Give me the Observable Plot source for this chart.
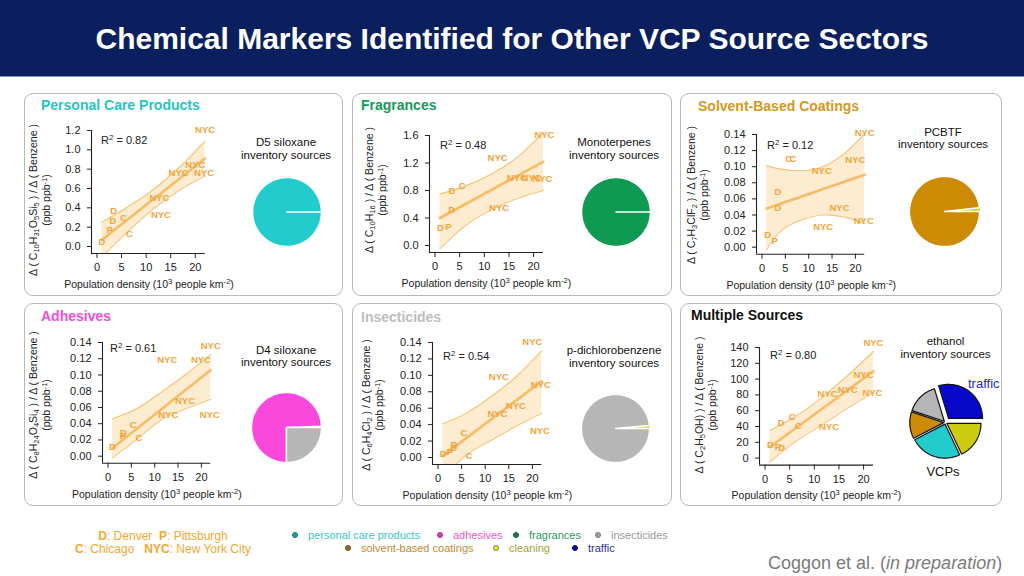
<!DOCTYPE html>
<html><head><meta charset="utf-8">
<script src="https://cdn.jsdelivr.net/npm/d3@7"></script>
<script src="https://cdn.jsdelivr.net/npm/@observablehq/plot@0.6"></script>
<style>
body{margin:0;background:#fff;font-family:"Liberation Sans",Arial,Helvetica,sans-serif;}
#root{position:relative;width:1024px;height:576px;overflow:hidden;background:#fff;}
.a{position:absolute;white-space:nowrap;}
.hdr{left:0;top:0;width:1024px;height:76px;background:#0b1f5e;border-bottom:1px solid #7f8fb8;}
.ttl{left:0;width:1024px;top:20px;text-align:center;color:#fff;font-weight:bold;font-size:30px;line-height:38px;}
.box{border:1.5px solid #b8b8b8;border-radius:9px;box-sizing:border-box;}
.ptitle{font-weight:bold;font-size:14px;line-height:16px;transform:translateY(-50%);}
.ylab{font-size:10.5px;line-height:13px;text-align:center;color:#222;transform:translate(-50%,-50%) rotate(-90deg);}
.xlab{font-size:10.5px;line-height:13px;color:#222;transform:translate(-50%,-50%);}
.r2{font-size:11px;line-height:13px;color:#222;transform:translateY(-50%);}
.pt{font-size:11.5px;line-height:12.5px;color:#111;text-align:center;transform:translate(-50%,-50%);}
sub{font-size:72%;vertical-align:-0.3em;line-height:0;}
sup{font-size:72%;vertical-align:0.45em;line-height:0;}
.leg{font-size:11px;line-height:13px;transform:translateY(-50%);}
.dot{width:6px;height:6px;border-radius:50%;box-sizing:border-box;transform:translate(-50%,-50%);}
</style></head><body><div id="root"></div>
<script>
// ---------- data ----------
const xTicks = [0, 5, 10, 15, 20];

// Personal care products (D5 siloxane)
const pcpCity = ["NYC","NYC","NYC","NYC","NYC","NYC","D","D","C","P","C","D"];
const pcpX = [22.0, 20.0, 16.6, 21.8, 12.7, 13.0, 3.4, 3.25, 5.4, 2.6, 6.6, 1.0];
const pcpY = [1.21, 0.845, 0.765, 0.765, 0.50, 0.33, 0.365, 0.26, 0.295, 0.174, 0.13, 0.045];
const pcpFitX = [1, 22], pcpFitY = [0.07, 0.91];
const pcpBandX = [1, 6, 11.5, 17, 22];
const pcpBandLo = [-0.11, 0.14, 0.39, 0.59, 0.73];
const pcpBandHi = [0.25, 0.40, 0.59, 0.83, 1.09];
const pcpTicks = [0, 0.2, 0.4, 0.6, 0.8, 1.0, 1.2];

// Fragrances (monoterpenes)
const frCity = ["NYC","NYC","NYC","NYC","NYC","NYC","D","C","D","D","P"];
const frX = [22.2, 12.7, 16.6, 19.6, 21.8, 13.0, 3.45, 5.5, 3.4, 1.1, 2.7];
const frY = [1.61, 1.28, 0.985, 0.985, 0.97, 0.55, 0.79, 0.86, 0.52, 0.25, 0.27];
const frFitX = [1, 22], frFitY = [0.40, 1.22];
const frBandX = [1, 6, 11.5, 17, 22];
const frBandLo = [-0.05, 0.28, 0.52, 0.69, 0.80];
const frBandHi = [0.75, 0.86, 1.04, 1.30, 1.65];
const frTicks = [0, 0.4, 0.8, 1.2, 1.6];

// Solvent-based coatings (PCBTF)
const scCity = ["NYC","NYC","NYC","C","C","D","D","NYC","NYC","NYC","D","P"];
const scX = [22.0, 20.0, 12.8, 5.7, 6.6, 3.4, 3.4, 16.6, 21.8, 13.1, 1.2, 2.7];
const scY = [0.142, 0.1085, 0.0945, 0.110, 0.109, 0.069, 0.0485, 0.049, 0.033, 0.025, 0.0154, 0.0075];
const scFitX = [1, 22], scFitY = [0.048, 0.090];
const scBandX = [1, 4, 8, 13, 18, 22];
const scBandLo = [-0.003, 0.020, 0.033, 0.040, 0.037, 0.029];
const scBandHi = [0.101, 0.097, 0.095, 0.100, 0.118, 0.141];
const smallTicks = [0, 0.02, 0.04, 0.06, 0.08, 0.10, 0.12, 0.14];

// Adhesives (D4 siloxane)
const adCity = ["NYC","NYC","NYC","NYC","NYC","NYC","C","D","P","C","D"];
const adX = [22.0, 12.7, 19.9, 16.5, 12.9, 21.8, 5.4, 3.3, 3.2, 6.6, 0.95];
const adY = [0.136, 0.118, 0.119, 0.068, 0.0505, 0.051, 0.039, 0.029, 0.0245, 0.0225, 0.0115];
const adFitX = [1, 22], adFitY = [0.010, 0.106];
const adBandX = [1, 6, 11, 16.5, 22];
const adBandLo = [-0.002, 0.020, 0.043, 0.058, 0.070];
const adBandHi = [0.046, 0.058, 0.077, 0.100, 0.125];

// Insecticides (p-dichlorobenzene)
const inCity = ["NYC","NYC","NYC","NYC","NYC","NYC","C","D","D","P","D","C"];
const inX = [20.0, 12.9, 21.8, 16.5, 12.6, 21.6, 5.5, 3.4, 3.3, 2.5, 1.1, 6.6];
const inY = [0.141, 0.098, 0.0886, 0.063, 0.0536, 0.0317, 0.0297, 0.0155, 0.011, 0.007, 0.0049, 0.0013];
const inFitX = [1, 22], inFitY = [0.002, 0.093];
const inBandX = [1, 6, 11, 16.5, 22];
const inBandLo = [-0.025, 0.003, 0.020, 0.038, 0.054];
const inBandHi = [0.041, 0.054, 0.073, 0.098, 0.130];

// Multiple sources (ethanol)
const etCity = ["NYC","NYC","NYC","NYC","NYC","NYC","C","D","C","D","P","D"];
const etX = [22.0, 20.0, 12.7, 16.8, 21.8, 13.0, 5.5, 3.25, 6.75, 1.1, 2.6, 3.4];
const etY = [146, 105, 81, 86, 82, 39.6, 52, 44, 41, 17, 14.7, 13.4];
const etFitX = [1, 22], etFitY = [14, 110];
const etBandX = [1, 6, 11, 16.5, 22];
const etBandLo = [-5, 20, 40, 62, 83];
const etBandHi = [35, 52, 74, 103, 135];
const etTicks = [0, 20, 40, 60, 80, 100, 120, 140];

// Pie charts: inventory source shares (%)
const srcCats = ["personal care products","adhesives","fragrances","insecticides","solvent-based coatings","cleaning","traffic"];
const srcFill = ["#22cccc","#fb48dc","#0f9a52","#b6b6b6","#cc8a05","#cccc12","#0808c8"];
const d5Cats = ["personal care products"], d5Vals = [100];
const monoCats = ["fragrances"], monoVals = [100];
const pcbtfCats = ["cleaning","solvent-based coatings"], pcbtfVals = [1.8, 98.2];
const d4Cats = ["solvent-based coatings","adhesives","insecticides"], d4Vals = [0.6, 74.4, 25];
const pdcbCats = ["cleaning","insecticides"], pdcbVals = [1.5, 98.5];
const ethCats = ["traffic","insecticides","solvent-based coatings","personal care products","cleaning"];
const ethVals = [29.7, 15.2, 12.7, 24.5, 17.9];

// Legend
const legCats = ["personal care products","adhesives","fragrances","insecticides","solvent-based coatings","cleaning","traffic"];
const legText = ["#3cc6c6","#ef55cf","#2a9a62","#9a9a9a","#c08c34","#a3a332","#2a30b0"];
const legDot = ["#17a3a3","#e040c0","#1a7a4c","#a0a0a0","#9a6a20","#f2f200","#1010a0"];

// ---------- layout ----------
const root = document.getElementById("root");
const FONT = '"Liberation Sans", Arial, Helvetica, sans-serif';
function el(cls, css, html) {
  const d = document.createElement("div");
  d.className = "a " + cls;
  Object.assign(d.style, css);
  if (html != null) d.innerHTML = html;
  root.appendChild(d);
  return d;
}
el("hdr", {});
el("ttl", {}, "Chemical Markers Identified for Other VCP Source Sectors");

const boxes = [[24,93,319],[352,93,320],[680,93,322],[24,303,319],[352,303,320],[680,303,322]];
boxes.forEach(([l,t,w]) => el("box", {left:l+"px", top:t+"px", width:w+"px", height:"203px"}));

const titles = [
  ["Personal Care Products", 41, 105, "#25c5c5"],
  ["Fragrances", 361, 105, "#159a5a"],
  ["Solvent-Based Coatings", 698, 106, "#d4981e"],
  ["Adhesives", 41, 316, "#f04ed2"],
  ["Insecticides", 361, 317, "#bdbdbd"],
  ["Multiple Sources", 691, 315, "#111"]
];
titles.forEach(([t,x,y,c]) => el("ptitle", {left:x+"px", top:y+"px", color:c}, t));

function scatter(cfg) {
  const ys = (cfg.y0 - cfg.yTopPx) / cfg.yTop;
  const fl = cfg.x0 - 5.5, fr = cfg.x0 + 22.4 * cfg.xs;
  const fb = cfg.y0 + 7, ft = cfg.yTopPx - 6;
  const xDom = [(fl - cfg.x0) / cfg.xs, 22.4];
  const yDom = [-7 / ys, cfg.yTop + 6 / ys];
  const mL = 48, mT = 15, mR = 22, mB = 25;
  const width = (fr - fl) + mL + mR, height = (fb - ft) + mT + mB;
  const pts = cfg.city.map((c, i) => ({c, x: cfg.x[i], y: cfg.y[i]}));
  const band = cfg.bandX.map((x, i) => ({x, lo: cfg.lo[i], hi: cfg.hi[i]}));
  const fit = cfg.fitX.map((x, i) => ({x, y: cfg.fitY[i]}));
  const svg = Plot.plot({
    width, height, marginLeft: mL, marginRight: mR, marginTop: mT, marginBottom: mB,
    style: {background: "transparent", overflow: "visible", fontFamily: FONT, color: "#222", maxWidth: "none"},
    x: {domain: xDom}, y: {domain: yDom},
    marks: [
      Plot.areaY(band, {x: "x", y1: "lo", y2: "hi", fill: "#fbdca8", fillOpacity: 0.55, curve: "natural", clip: true}),
      Plot.line(band, {x: "x", y: "hi", stroke: "#f7c47c", strokeWidth: 1.1, curve: "natural", clip: true}),
      Plot.line(band, {x: "x", y: "lo", stroke: "#f7c47c", strokeWidth: 1.1, curve: "natural", clip: true}),
      Plot.line(fit, {x: "x", y: "y", stroke: "#f5b456", strokeWidth: 2.6, strokeOpacity: 0.85, clip: true}),
      Plot.ruleX([{x: xDom[0], y1: yDom[0], y2: cfg.yTop}], {x: "x", y1: "y1", y2: "y2", stroke: "#222", strokeWidth: 1.1}),
      Plot.ruleY([{y: yDom[0], x1: xDom[0], x2: 22}], {y: "y", x1: "x1", x2: "x2", stroke: "#222", strokeWidth: 1.1}),
      Plot.axisY(cfg.ticks, {tickSize: 4, tickPadding: 7, tickFormat: cfg.fmt, fontSize: 11, label: null}),
      Plot.axisX(xTicks, {tickSize: 5, tickPadding: 5, fontSize: 11, label: null}),
      Plot.text(pts, {x: "x", y: "y", text: "c", fill: "#f3a33a", fontWeight: "bold", fontSize: 9.5})
    ]
  });
  svg.style.position = "absolute";
  svg.style.left = (fl - mL) + "px";
  svg.style.top = (ft - mT) + "px";
  root.appendChild(svg);
  // axis titles
  el("xlab", {left: ((fl + fr) / 2) + "px", top: (fb + 31) + "px"},
    "Population density (10<sup>3</sup> people km<sup>-2</sup>)");
  el("ylab", {left: cfg.ylx + "px", top: cfg.yly + "px"},
    "Δ ( " + cfg.chem + " ) / Δ ( Benzene )<br>(ppb ppb<sup>-1</sup>)");
  el("r2", {left: cfg.r2x + "px", top: cfg.r2y + "px"}, "R<sup>2</sup> = " + cfg.r2);
}

const f1 = d3.format(".1f"), f2 = d3.format(".2f"), f0 = d3.format("d");
scatter({x0: 96.7, xs: 4.915, y0: 246, yTop: 1.2, yTopPx: 130, ticks: pcpTicks, fmt: f1,
  city: pcpCity, x: pcpX, y: pcpY, fitX: pcpFitX, fitY: pcpFitY, bandX: pcpBandX, lo: pcpBandLo, hi: pcpBandHi,
  chem: "C<sub>10</sub>H<sub>31</sub>O<sub>5</sub>Si<sub>5</sub>", ylx: 39.5, yly: 200, r2: "0.82", r2x: 101, r2y: 140});
scatter({x0: 434, xs: 4.93, y0: 245, yTop: 1.6, yTopPx: 135, ticks: frTicks, fmt: f1,
  city: frCity, x: frX, y: frY, fitX: frFitX, fitY: frFitY, bandX: frBandX, lo: frBandLo, hi: frBandHi,
  chem: "C<sub>10</sub>H<sub>16</sub>", ylx: 375.5, yly: 190, r2: "0.48", r2x: 440, r2y: 145});
scatter({x0: 761.7, xs: 4.67, y0: 246.7, yTop: 0.14, yTopPx: 134, ticks: smallTicks, fmt: f2,
  city: scCity, x: scX, y: scY, fitX: scFitX, fitY: scFitY, bandX: scBandX, lo: scBandLo, hi: scBandHi,
  chem: "C<sub>7</sub>H<sub>3</sub>ClF<sub>2</sub>", ylx: 697.5, yly: 195, r2: "0.12", r2x: 767, r2y: 145});
scatter({x0: 107.3, xs: 4.67, y0: 456, yTop: 0.14, yTopPx: 342.3, ticks: smallTicks, fmt: f2,
  city: adCity, x: adX, y: adY, fitX: adFitX, fitY: adFitY, bandX: adBandX, lo: adBandLo, hi: adBandHi,
  chem: "C<sub>8</sub>H<sub>24</sub>O<sub>4</sub>Si<sub>4</sub>", ylx: 39.5, yly: 405, r2: "0.61", r2x: 110, r2y: 348});
scatter({x0: 437.3, xs: 4.72, y0: 456.7, yTop: 0.14, yTopPx: 341.7, ticks: smallTicks, fmt: f2,
  city: inCity, x: inX, y: inY, fitX: inFitX, fitY: inFitY, bandX: inBandX, lo: inBandLo, hi: inBandHi,
  chem: "C<sub>6</sub>H<sub>4</sub>Cl<sub>2</sub>", ylx: 372.5, yly: 405, r2: "0.54", r2x: 443, r2y: 356});
scatter({x0: 764, xs: 4.93, y0: 457.3, yTop: 140, yTopPx: 346.7, ticks: etTicks, fmt: f0,
  city: etCity, x: etX, y: etY, fitX: etFitX, fitY: etFitY, bandX: etBandX, lo: etBandLo, hi: etBandHi,
  chem: "C<sub>2</sub>H<sub>5</sub>OH) ", ylx: 705.5, yly: 405, r2: "0.80", r2x: 770, r2y: 355});

// pie titles
const pieTitles = [
  ["D5 siloxane", 286, 142], ["Monoterpenes", 614, 142], ["PCBTF", 943, 131.5],
  ["D4 siloxane", 286, 349.5], ["p-dichlorobenzene", 614, 350], ["ethanol", 945.5, 341]
];
pieTitles.forEach(([t, x, y]) => el("pt", {left: x + "px", top: (y + 6.2) + "px"}, t + "<br>inventory sources"));

function pie(cfg) {
  const total = d3.sum(cfg.vals);
  const pts = [];
  let cum = 0;
  cfg.vals.forEach((v, i) => {
    const a0 = cum / total * 2 * Math.PI; cum += v;
    const a1 = cum / total * 2 * Math.PI;
    const mid = (a0 + a1) / 2;
    const e = cfg.cats[i] === cfg.bigCat ? cfg.big : cfg.explode;
    const ox = e * Math.cos(mid), oy = e * Math.sin(mid);
    const col = srcFill[srcCats.indexOf(cfg.cats[i])];
    pts.push({s: i, x: ox, y: oy, c: col});
    const n = Math.max(2, Math.ceil((a1 - a0) / (Math.PI / 120)));
    for (let k = 0; k <= n; k++) {
      const a = a0 + (a1 - a0) * k / n;
      pts.push({s: i, x: ox + Math.cos(a), y: oy + Math.sin(a), c: col});
    }
    pts.push({s: i, x: ox, y: oy, c: col});
  });
  const pad = 8;
  const size = 2 * cfg.r + 2 * pad;
  const svg = Plot.plot({
    width: size, height: size, margin: pad,
    style: {background: "transparent", overflow: "visible", maxWidth: "none"},
    x: {domain: [-1, 1], axis: null}, y: {domain: [-1, 1], axis: null},
    color: {type: "identity"},
    marks: [
      Plot.line(pts, {x: "x", y: "y", z: "s", fill: "c", stroke: cfg.stroke, strokeWidth: cfg.sw, curve: "linear", strokeLinejoin: "round"})
    ]
  });
  svg.style.position = "absolute";
  svg.style.left = (cfg.cx - cfg.r - pad) + "px";
  svg.style.top = (cfg.cy - cfg.r - pad) + "px";
  root.appendChild(svg);
}
pie({cx: 286, cy: 211, r: 34.5, cats: d5Cats, vals: d5Vals, stroke: "white", sw: 1.6, explode: 0});
pie({cx: 615, cy: 211, r: 34.5, cats: monoCats, vals: monoVals, stroke: "white", sw: 1.6, explode: 0});
pie({cx: 943.7, cy: 211, r: 35, cats: pcbtfCats, vals: pcbtfVals, stroke: "white", sw: 1.3, explode: 0, bigCat: "cleaning", big: 0.03});
pie({cx: 286, cy: 427, r: 35, cats: d4Cats, vals: d4Vals, stroke: "white", sw: 1.4, explode: 0});
pie({cx: 614.5, cy: 427.5, r: 34, cats: pdcbCats, vals: pdcbVals, stroke: "white", sw: 1.3, explode: 0, bigCat: "cleaning", big: 0.03});
pie({cx: 945, cy: 422, r: 34, cats: ethCats, vals: ethVals, stroke: "#111", sw: 1.2, explode: 0.05, bigCat: "traffic", big: 0.15});
el("", {left: "968px", top: "376px", fontSize: "13px", color: "#2626cc"}, "traffic");
el("", {left: "943px", top: "471px", fontSize: "13px", color: "#111", transform: "translate(-50%,-50%)"}, "VCPs");

// bottom legends
el("", {left: "63px", top: "530px", width: "200px", textAlign: "center", fontSize: "12px", lineHeight: "13px", color: "#f0a832"},
  "<b>D</b>: Denver&nbsp;&nbsp;<b>P</b>: Pittsburgh<br><b>C</b>: Chicago&nbsp;&nbsp;&nbsp;<b>NYC</b>: New York City");
const legPos = [[295, 535], [440, 535], [516, 535], [598, 535], [348, 548], [496, 548], [575, 548]];
legCats.forEach((c, i) => {
  const [x, y] = legPos[i];
  el("dot", {left: x + "px", top: y + "px", background: legDot[i], border: "1px solid " + (i === 5 ? "#777" : d3.color(legDot[i]).darker(0.8))});
  el("leg", {left: (x + 13) + "px", top: y + "px", color: legText[i]}, c);
});
el("", {left: "768px", top: "552px", fontSize: "18px", lineHeight: "22px", color: "#7a7a7a"}, "Coggon et al. (<i>in preparation</i>)");
</script></body></html>
